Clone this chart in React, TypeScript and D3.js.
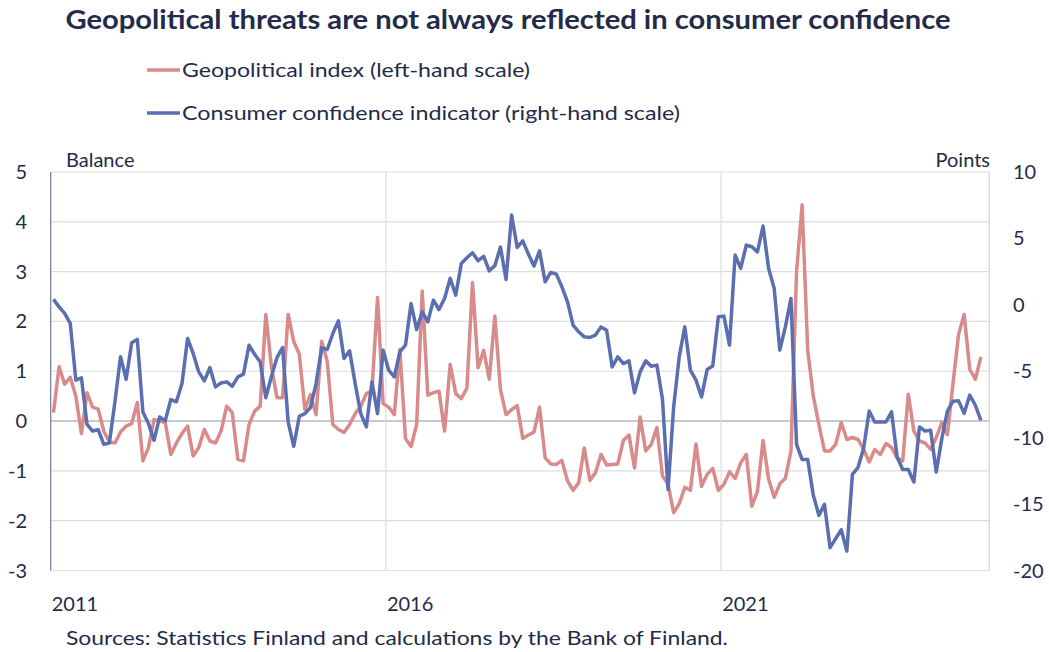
import * as d3 from 'd3';
import React, { useEffect, useRef } from 'react';

// Monthly values, Jan 2011 onwards
const geopoliticalIndex = [
  0.17, 1.09, 0.74, 0.88, 0.5, -0.25, 0.57, 0.28, 0.24, -0.2,
  -0.42, -0.44, -0.22, -0.1, -0.05, 0.37, -0.8, -0.53, 0.03, 0.0,
  -0.03, -0.67, -0.44, -0.25, -0.1, -0.7, -0.53, -0.17, -0.4, -0.44,
  -0.2, 0.3, 0.17, -0.77, -0.8, -0.07, 0.2, 0.3, 2.14, 1.1,
  0.47, 0.47, 2.14, 1.6, 1.34, 0.23, 0.53, 0.13, 1.6, 1.2,
  -0.07, -0.17, -0.23, -0.07, 0.15, 0.3, 0.55, 0.6, 2.48, 0.35,
  0.28, 0.13, 1.44, -0.35, -0.51, -0.07, 2.61, 0.52, 0.57, 0.6,
  -0.2, 1.14, 0.55, 0.45, 0.66, 2.78, 1.07, 1.42, 0.84, 2.11,
  0.63, 0.13, 0.23, 0.31, -0.35, -0.28, -0.22, 0.28, -0.74, -0.86,
  -0.87, -0.79, -1.2, -1.39, -1.24, -0.54, -1.19, -1.04, -0.67, -0.88,
  -0.87, -0.86, -0.39, -0.28, -0.94, 0.08, -0.6, -0.47, -0.13, -1.1,
  -1.27, -1.84, -1.66, -1.33, -1.39, -0.46, -1.31, -1.07, -0.95, -1.39,
  -1.27, -1.02, -1.15, -0.84, -0.67, -1.71, -1.41, -0.39, -1.17, -1.53,
  -1.26, -1.15, -0.6, 3.0, 4.34, 1.41, 0.5, -0.07, -0.6, -0.6,
  -0.47, -0.03, -0.37, -0.33, -0.37, -0.57, -0.82, -0.57, -0.67, -0.45,
  -0.53, -0.74, -0.8, 0.54, -0.2, -0.4, -0.44, -0.57, -0.33, -0.03,
  -0.27, 0.75, 1.74, 2.14, 1.04, 0.84, 1.29,
];

const consumerConfidence = [
  0.41, -0.15, -0.65, -1.4, -5.67, -5.5, -9.0, -9.5, -9.4, -10.5,
  -10.4, -7.3, -3.9, -5.6, -2.86, -2.6, -8.06, -8.94, -10.2, -8.44,
  -8.74, -7.13, -7.3, -5.93, -2.53, -3.66, -5.05, -5.72, -4.72, -6.18,
  -5.88, -5.8, -6.13, -5.42, -5.22, -3.04, -3.72, -4.3, -7.0, -5.4,
  -3.98, -3.21, -8.81, -10.65, -8.39, -8.19, -7.73, -5.93, -3.24, -3.36,
  -2.16, -1.2, -4.04, -3.46, -5.93, -8.19, -9.19, -5.8, -8.19, -3.41,
  -4.92, -5.42, -3.54, -3.04, 0.1, -1.86, -0.53, -1.28, 0.35, -0.35,
  0.48, 1.99, 0.73, 3.12, 3.54, 3.92, 3.32, 3.65, 2.56, 2.95,
  4.35, 1.91, 6.76, 4.32, 4.82, 3.82, 2.92, 4.07, 1.73, 2.44,
  2.31, 1.36, 0.23, -1.53, -2.03, -2.41, -2.46, -2.28, -1.66, -1.91,
  -4.67, -3.92, -4.42, -4.22, -6.63, -5.05, -4.22, -4.62, -4.54, -7.1,
  -13.9, -7.7, -3.92, -1.66, -4.92, -5.67, -6.93, -4.86, -4.6, -0.9,
  -0.85, -3.04, 3.75, 2.74, 4.5, 4.37, 3.99, 5.93, 2.74, 1.24,
  -3.41, -1.66, 0.48, -10.5, -11.65, -11.65, -14.34, -15.85, -15.02, -18.28,
  -17.6, -16.93, -18.54, -12.76, -12.25, -10.82, -7.99, -8.82, -8.82, -8.82,
  -8.06, -11.45, -12.4, -12.4, -13.34, -9.19, -9.5, -9.45, -12.58, -10.07,
  -8.0, -7.25, -7.23, -8.17, -6.8, -7.56, -8.69,
];

const leftTicks = [5, 4, 3, 2, 1, 0, -1, -2, -3];
const rightTicks = [10, 5, 0, -5, -10, -15, -20];
const yearLabels = ['2011', '2016', '2021'];
const monthCount = 168;

const TEXT = '#232b4a';
const PINK = '#d98a8a';
const BLUE = '#5a6eb0';
const FONT = 'Lato, "Open Sans", sans-serif';

const App: React.FC = () => {
  const svgRef = useRef<SVGSVGElement>(null);

  useEffect(() => {
    if (!svgRef.current) { return; }
    const svg = d3.select(svgRef.current);
    svg.selectAll('*').remove();

    const left = 50.7;
    const right = 989.3;
    const top = 172;
    const bottom = 570.5;

    const x = d3.scaleLinear().domain([0, monthCount]).range([left, right]);
    const yLeft = d3.scaleLinear().domain([-3, 5]).range([bottom, top]);
    const yRight = d3.scaleLinear().domain([-20, 10]).range([bottom, top]);

    // Title
    svg.append('text')
      .attr('x', 508)
      .attr('y', 29)
      .attr('text-anchor', 'middle')
      .attr('font-family', FONT)
      .attr('font-weight', 700)
      .attr('font-size', 26)
      .attr('fill', TEXT)
      .attr('textLength', 885)
      .attr('lengthAdjust', 'spacingAndGlyphs')
      .text('Geopolitical threats are not always reflected in consumer confidence');

    // Legend
    const legend = [
      { label: 'Geopolitical index (left-hand scale)', color: PINK, y: 70, w: 348 },
      { label: 'Consumer confidence indicator (right-hand scale)', color: BLUE, y: 113, w: 498 },
    ];
    legend.forEach(item => {
      svg.append('line')
        .attr('x1', 147).attr('x2', 180)
        .attr('y1', item.y).attr('y2', item.y)
        .attr('stroke', item.color)
        .attr('stroke-width', 3.5);
      svg.append('text')
        .attr('x', 182)
        .attr('y', item.y)
        .attr('dy', '0.35em')
        .attr('font-family', FONT)
        .attr('font-size', 20)
        .attr('fill', TEXT)
        .attr('textLength', item.w)
        .attr('lengthAdjust', 'spacingAndGlyphs')
        .text(item.label);
    });

    // Axis titles
    svg.append('text')
      .attr('x', 66).attr('y', 160).attr('dy', '0.35em')
      .attr('font-family', FONT).attr('font-size', 20).attr('fill', TEXT)
      .text('Balance');
    svg.append('text')
      .attr('x', 990).attr('y', 160).attr('dy', '0.35em')
      .attr('text-anchor', 'end')
      .attr('font-family', FONT).attr('font-size', 20).attr('fill', TEXT)
      .text('Points');

    // Horizontal grid lines
    svg.append('g')
      .selectAll('line')
      .data(leftTicks)
      .enter().append('line')
      .attr('x1', left).attr('x2', right)
      .attr('y1', d => yLeft(d)).attr('y2', d => yLeft(d))
      .attr('stroke', d => (d === 0 ? '#b4b8c4' : '#dcdde2'))
      .attr('stroke-width', d => (d === 0 ? 1.5 : 1.2));

    // Vertical year lines
    svg.append('g')
      .selectAll('line')
      .data([60, 120])
      .enter().append('line')
      .attr('x1', d => x(d)).attr('x2', d => x(d))
      .attr('y1', top).attr('y2', bottom)
      .attr('stroke', '#dcdde2')
      .attr('stroke-width', 1.2);

    // Axis lines
    svg.append('line')
      .attr('x1', right).attr('x2', right)
      .attr('y1', top).attr('y2', bottom)
      .attr('stroke', '#d0d3da').attr('stroke-width', 1.2);
    svg.append('line')
      .attr('x1', left).attr('x2', left)
      .attr('y1', top).attr('y2', bottom)
      .attr('stroke', '#6b7897').attr('stroke-width', 1.2);

    // Tick labels
    svg.append('g')
      .selectAll('text')
      .data(leftTicks)
      .enter().append('text')
      .attr('x', 27)
      .attr('y', d => yLeft(d))
      .attr('dy', '0.35em')
      .attr('text-anchor', 'end')
      .attr('font-family', FONT).attr('font-size', 20).attr('fill', TEXT)
      .text(d => `${d}`);

    svg.append('g')
      .selectAll('text')
      .data(rightTicks)
      .enter().append('text')
      .attr('x', 1013)
      .attr('y', d => yRight(d))
      .attr('dy', '0.35em')
      .attr('font-family', FONT).attr('font-size', 20).attr('fill', TEXT)
      .text(d => `${d}`);

    svg.append('g')
      .selectAll('text')
      .data(yearLabels)
      .enter().append('text')
      .attr('x', (_, i) => x(i * 60) + 1)
      .attr('y', 604)
      .attr('dy', '0.35em')
      .attr('font-family', FONT).attr('font-size', 20).attr('fill', TEXT)
      .text(d => d);

    // Lines
    const lineLeft = d3.line<number>()
      .x((_, i) => x(i + 0.5))
      .y(d => yLeft(d));
    const lineRight = d3.line<number>()
      .x((_, i) => x(i + 0.5))
      .y(d => yRight(d));

    svg.append('path')
      .datum(geopoliticalIndex)
      .attr('fill', 'none')
      .attr('stroke', PINK)
      .attr('stroke-width', 3.5)
      .attr('stroke-linejoin', 'round')
      .attr('d', lineLeft);

    svg.append('path')
      .datum(consumerConfidence)
      .attr('fill', 'none')
      .attr('stroke', BLUE)
      .attr('stroke-width', 3.5)
      .attr('stroke-linejoin', 'round')
      .attr('d', lineRight);

    // Source
    svg.append('text')
      .attr('x', 66).attr('y', 638).attr('dy', '0.35em')
      .attr('font-family', FONT).attr('font-size', 20).attr('fill', TEXT)
      .attr('textLength', 662)
      .attr('lengthAdjust', 'spacingAndGlyphs')
      .text('Sources: Statistics  Finland and calculations by the Bank of Finland.');
  }, []);

  return (
    <svg
      ref={svgRef}
      width={1049}
      height={652}
      style={{ position: 'absolute', left: 0, top: 0, background: '#fff' }}
    />
  );
};

export default App;
